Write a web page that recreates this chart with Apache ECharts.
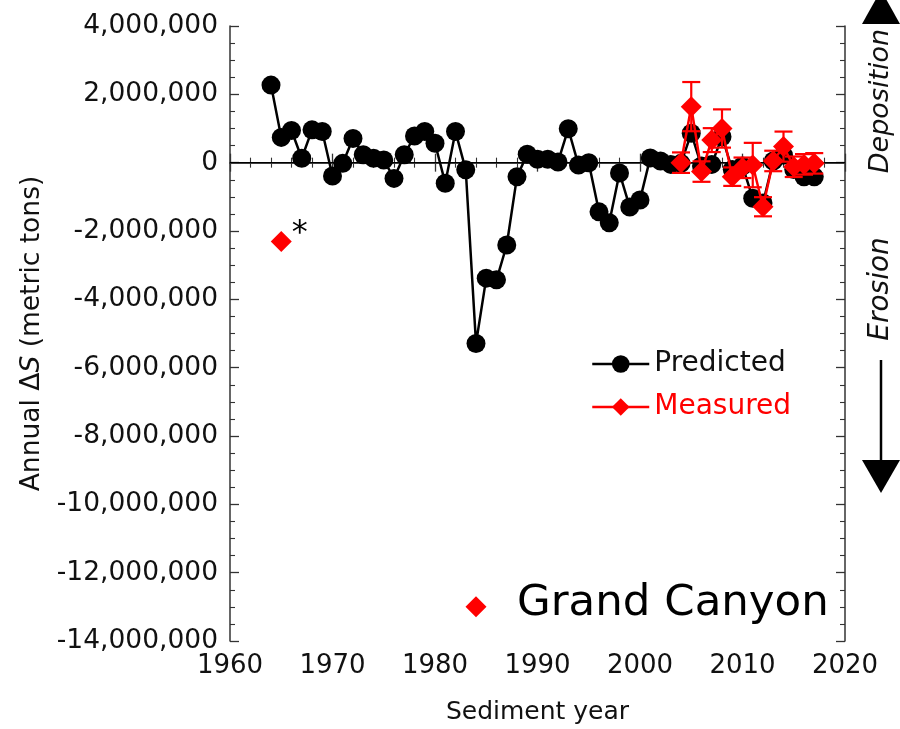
<!DOCTYPE html>
<html><head><meta charset="utf-8">
<script src="https://cdn.jsdelivr.net/npm/echarts@6/dist/echarts.min.js"></script>
<style>html,body{margin:0;padding:0;background:#fff}#c{width:900px;height:729px}</style>
</head><body><div id="c"></div>
<script>
// ---- data (metric tons) ----
const predYears = [1964,1965,1966,1967,1968,1969,1970,1971,1972,1973,1974,1975,1976,1977,1978,1979,1980,1981,1982,1983,1984,1985,1986,1987,1988,1989,1990,1991,1992,1993,1994,1995,1996,1997,1998,1999,2000,2001,2002,2003,2004,2005,2006,2007,2008,2009,2010,2011,2012,2013,2014,2015,2016,2017];
const predValues = [2270000,740000,940000,130000,960000,910000,-390000,-20000,710000,230000,130000,80000,-460000,230000,780000,910000,570000,-600000,910000,-210000,-5290000,-3380000,-3430000,-2410000,-410000,250000,100000,100000,20000,990000,-70000,0,-1440000,-1760000,-300000,-1300000,-1090000,140000,50000,-50000,-20000,860000,-100000,-50000,760000,-200000,-100000,-1040000,-1180000,50000,220000,-200000,-410000,-410000];
const measYears = [2004,2005,2006,2007,2008,2009,2010,2011,2012,2013,2014,2015,2016,2017];
const measValues = [0,1640000,-260000,660000,1000000,-410000,-150000,-70000,-1290000,50000,470000,-120000,-50000,-20000];
const measErrors = [300000,720000,300000,350000,560000,270000,300000,650000,280000,300000,440000,300000,300000,300000];
const isoYears = [1965,1984];
const isoValues = [-2310000,-13000000];
const isoLabels = ['*',''];
const xMin = 1960, xMax = 2020, xStep = 10;
const yMin = -14000000, yMax = 4000000, yStep = 2000000;

const FONT = 'DejaVu Sans';
const AX = '#333';
const TXT = '#111';
const RED = '#ff0000';

const chart = echarts.init(document.getElementById('c'), null, {renderer:'canvas'});

const tickCommon = {inside:true, length:9, lineStyle:{color:AX, width:1.3}};
const minorCommon = {show:true, length:5, lineStyle:{color:AX, width:1.1}};

const option = {
  backgroundColor:'#fff',
  animation:false,
  grid:{left:230, right:55, top:26, bottom:88, outerBoundsMode:'none'},
  legend:{
    orient:'vertical', left:591, top:350, itemWidth:57, itemHeight:22, itemGap:15, padding:0,
    lineStyle:{width:2.5},
    textStyle:{fontFamily:FONT, fontSize:28, color:TXT},
    data:[{name:'Predicted'},{name:'Measured', textStyle:{color:RED}}]
  },
  xAxis:[{
    type:'value', min:xMin, max:xMax, interval:xStep, position:'bottom',
    axisLine:{lineStyle:{color:AX, width:1.5}},
    axisTick:tickCommon, minorTick:Object.assign({splitNumber:5}, minorCommon),
    splitLine:{show:false},
    axisLabel:{fontFamily:FONT, fontSize:26, color:TXT, margin:12, formatter:v=>String(v)},
    name:'Sediment year', nameLocation:'middle', nameGap:59,
    nameTextStyle:{fontFamily:FONT, fontSize:25, color:TXT}
  },{
    type:'value', min:xMin, max:xMax, interval:xStep, position:'top',
    axisLine:{lineStyle:{color:AX, width:1.5}},
    axisTick:tickCommon, minorTick:Object.assign({splitNumber:5}, minorCommon),
    splitLine:{show:false}, axisLabel:{show:false}
  }],
  yAxis:[{
    type:'value', min:yMin, max:yMax, interval:yStep, position:'left',
    axisLine:{show:true, lineStyle:{color:AX, width:1.5}},
    axisTick:tickCommon, minorTick:Object.assign({splitNumber:4}, minorCommon),
    splitLine:{show:false},
    axisLabel:{fontFamily:FONT, fontSize:26.5, color:TXT, margin:12,
      formatter:v=>v.toLocaleString('en-US')},
    name:'Annual \u0394{i|S} (metric tons)', nameLocation:'middle', nameGap:178, nameRotate:90,
    nameTextStyle:{fontFamily:FONT, fontSize:26.5, color:TXT,
      rich:{i:{fontFamily:FONT, fontSize:26.5, fontStyle:'italic', color:TXT}}}
  },{
    type:'value', min:yMin, max:yMax, interval:yStep, position:'right',
    axisLine:{show:true, lineStyle:{color:AX, width:1.5}},
    axisTick:tickCommon, minorTick:Object.assign({splitNumber:4}, minorCommon),
    splitLine:{show:false}, axisLabel:{show:false}
  }],
  series:[
    {
      name:'Predicted', type:'line', xAxisIndex:0, yAxisIndex:0,
      data:predYears.map((y,i)=>[y,predValues[i]]),
      symbol:'circle', symbolSize:19, itemStyle:{color:'#000'},
      lineStyle:{color:'#000', width:2.5}, z:2,
      markLine:{silent:true, symbol:'none', label:{show:false},
        lineStyle:{color:'#000', width:1, type:'solid'}, data:[{yAxis:0}], z:1}
    },
    {
      name:'errbars', type:'custom', xAxisIndex:0, yAxisIndex:0, z:3,
      data:measYears.map((y,i)=>[y,measValues[i],measErrors[i]]),
      renderItem:(params, api)=>{
        const x = api.value(0), v = api.value(1), e = api.value(2);
        const t = api.coord([x, v+e]), b = api.coord([x, v-e]);
        const hw = 9;
        const st = {stroke:RED, lineWidth:2.2};
        return {type:'group', children:[
          {type:'line', shape:{x1:t[0],y1:t[1],x2:b[0],y2:b[1]}, style:st},
          {type:'line', shape:{x1:t[0]-hw,y1:t[1],x2:t[0]+hw,y2:t[1]}, style:st},
          {type:'line', shape:{x1:b[0]-hw,y1:b[1],x2:b[0]+hw,y2:b[1]}, style:st}
        ]};
      }
    },
    {
      name:'Measured', type:'line', xAxisIndex:0, yAxisIndex:0, z:4,
      data:measYears.map((y,i)=>[y,measValues[i]]),
      symbol:'diamond', symbolSize:21, itemStyle:{color:RED, opacity:1},
      lineStyle:{color:RED, width:2.5}
    },
    {
      name:'Measured', type:'scatter', xAxisIndex:0, yAxisIndex:0, z:4,
      data:isoYears.map((y,i)=>({value:[y,isoValues[i]],
        label:{show:isoLabels[i]!=='', formatter:isoLabels[i], position:'right', distance:1, offset:[-1,-8],
          fontFamily:FONT, fontSize:32, color:'#000'}})),
      symbol:'diamond', symbolSize:21, itemStyle:{color:RED, opacity:1}
    }
  ],
  graphic:[
    {type:'polygon', shape:{points:[[862,24],[900,24],[881,-10]]}, style:{fill:'#000'}},
    {type:'text', x:881, y:101, rotation:Math.PI/2,
      style:{text:'Deposition', fontFamily:FONT, fontSize:27, fontStyle:'italic', fill:TXT, align:'center', verticalAlign:'middle'}},
    {type:'text', x:881, y:289, rotation:Math.PI/2,
      style:{text:'Erosion', fontFamily:FONT, fontSize:28, fontStyle:'italic', fill:TXT, align:'center', verticalAlign:'middle'}},
    {type:'line', shape:{x1:881,y1:360,x2:881,y2:462}, style:{stroke:'#000', lineWidth:2.5}},
    {type:'polygon', shape:{points:[[862,460],[900,460],[881,493]]}, style:{fill:'#000'}},
    {type:'text', x:517, y:604,
      style:{text:'Grand Canyon', fontFamily:FONT, fontSize:43.5, fill:'#000', align:'left', verticalAlign:'middle'}}
  ]
};
chart.setOption(option);
</script></body></html>
